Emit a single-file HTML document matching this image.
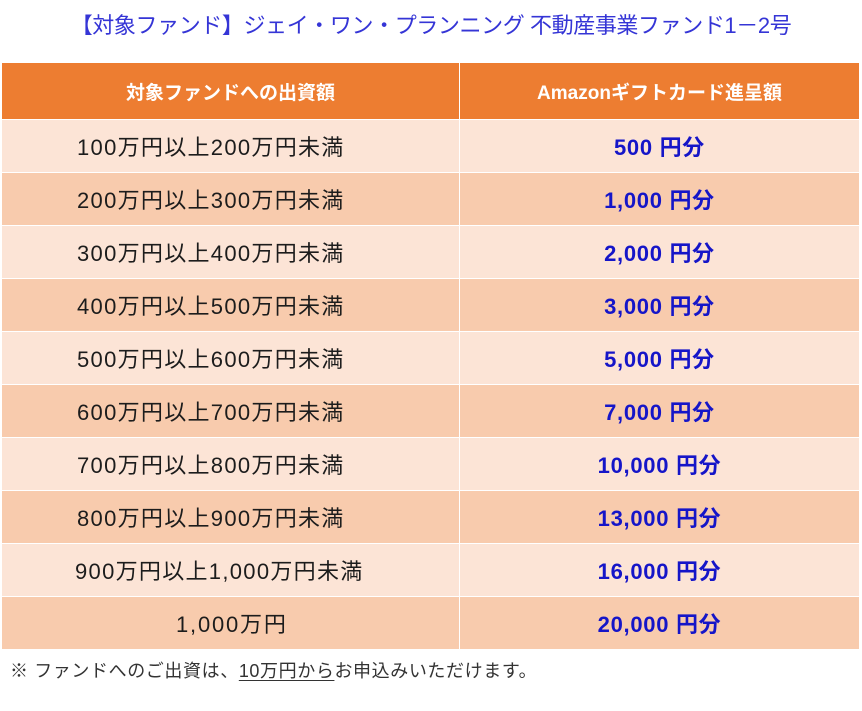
<!DOCTYPE html>
<html>
<head>
<meta charset="utf-8">
<style>
  html, body { margin:0; padding:0; background:#fff; }
  body { width:862px; height:711px; position:relative; overflow:hidden;
         font-family:"Liberation Sans","Noto Sans CJK JP",sans-serif; }
  .title { position:absolute; left:0; width:862px; top:8px; height:36px; line-height:36px;
           text-align:center; font-size:22px; color:#3535d6; letter-spacing:-0.4px; }
  .hdr { position:absolute; top:63px; height:56px; background:#ED7D31; color:#fff;
         font-size:19px; font-weight:bold; display:flex; align-items:center; justify-content:center; }
  .cell { position:absolute; height:52px; display:flex; align-items:center; }
  .l { left:2px; width:457px; font-size:22px; color:#1c1c1c; letter-spacing:1.3px; padding-left:75px; box-sizing:border-box; }
  .r { left:460px; width:399px; justify-content:center; font-size:22px; font-weight:bold; color:#1515c8; letter-spacing:0.7px; }
  .a { background:#FCE4D6; }
  .b { background:#F8CBAD; }
  .note { position:absolute; left:10px; top:658px; font-size:18px; color:#333; line-height:26px; letter-spacing:0.6px; }
  .note u { text-decoration:underline; text-underline-offset:3px; }
</style>
</head>
<body>
<div class="title">【対象ファンド】ジェイ・ワン・プランニング 不動産事業ファンド1－2号</div>

<div class="hdr" style="left:2px;width:457px;">対象ファンドへの出資額</div>
<div class="hdr" style="left:460px;width:399px;">Amazonギフトカード進呈額</div>

<div class="cell l a" style="top:120px;">100万円以上200万円未満</div>
<div class="cell r a" style="top:120px;">500 円分</div>

<div class="cell l b" style="top:173px;">200万円以上300万円未満</div>
<div class="cell r b" style="top:173px;">1,000 円分</div>

<div class="cell l a" style="top:226px;">300万円以上400万円未満</div>
<div class="cell r a" style="top:226px;">2,000 円分</div>

<div class="cell l b" style="top:279px;">400万円以上500万円未満</div>
<div class="cell r b" style="top:279px;">3,000 円分</div>

<div class="cell l a" style="top:332px;">500万円以上600万円未満</div>
<div class="cell r a" style="top:332px;">5,000 円分</div>

<div class="cell l b" style="top:385px;">600万円以上700万円未満</div>
<div class="cell r b" style="top:385px;">7,000 円分</div>

<div class="cell l a" style="top:438px;">700万円以上800万円未満</div>
<div class="cell r a" style="top:438px;">10,000 円分</div>

<div class="cell l b" style="top:491px;">800万円以上900万円未満</div>
<div class="cell r b" style="top:491px;">13,000 円分</div>

<div class="cell l a" style="top:544px;padding-left:73px;">900万円以上1,000万円未満</div>
<div class="cell r a" style="top:544px;">16,000 円分</div>

<div class="cell l b" style="top:597px;padding-left:174px;letter-spacing:1.8px;">1,000万円</div>
<div class="cell r b" style="top:597px;">20,000 円分</div>

<div class="note">※ ファンドへのご出資は、<u>10万円から</u>お申込みいただけます。</div>
</body>
</html>
